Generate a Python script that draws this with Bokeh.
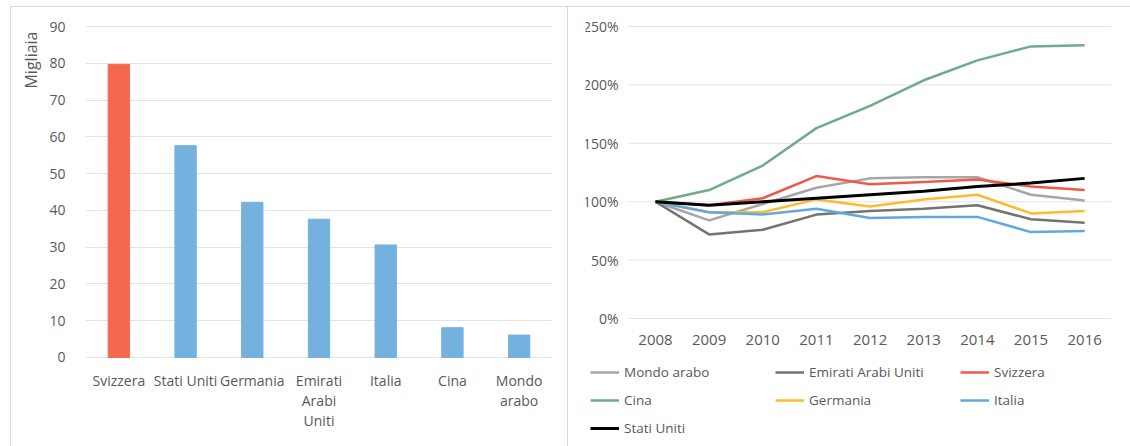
from bokeh.plotting import figure
from bokeh.layouts import row
from bokeh.models import Range1d, FactorRange, Title, Legend, LegendItem, FixedTicker
from bokeh.embed import file_html
from bokeh.resources import INLINE

# ---------------- data ----------------
countries = ["Svizzera", "Stati Uniti", "Germania", "Emirati Arabi Uniti", "Italia", "Cina", "Mondo arabo"]
thousands = [79.7, 57.6, 42.2, 37.6, 30.6, 8.1, 6.1]
bar_colors = ["#f4684f", "#75b1df", "#75b1df", "#75b1df", "#75b1df", "#75b1df", "#75b1df"]
country_labels = ["Svizzera", "Stati Uniti", "Germania", "Emirati\nArabi\nUniti", "Italia", "Cina", "Mondo\narabo"]
num_ticks = [0, 10, 20, 30, 40, 50, 60, 70, 80, 90]

years = [2008, 2009, 2010, 2011, 2012, 2013, 2014, 2015, 2016]
year_labels = ["2008", "2009", "2010", "2011", "2012", "2013", "2014", "2015", "2016"]
mondo_arabo = [100, 84, 98, 112, 120, 121, 121, 106, 101]
emirati = [100, 72, 76, 89, 92, 94, 97, 85, 82]
svizzera = [100, 97, 103, 122, 115, 117, 119, 113, 110]
cina = [100, 110, 131, 163, 182, 204, 221, 233, 234]
germania = [100, 91, 91, 102, 96, 102, 106, 90, 92]
italia = [100, 91, 89, 94, 86, 87, 87, 74, 75]
stati_uniti = [100, 97, 100, 103, 106, 109, 113, 116, 120]
series_names = ["Mondo arabo", "Emirati Arabi Uniti", "Svizzera", "Cina", "Germania", "Italia", "Stati Uniti"]
series_values = [mondo_arabo, emirati, svizzera, cina, germania, italia, stati_uniti]
series_colors = ["#a6a6a6", "#737373", "#ee5a4a", "#6fab88", "#fbbd2e", "#62a8de", "#000000"]
pct_ticks = [0, 50, 100, 150, 200, 250]
pct_labels = ["0%", "50%", "100%", "150%", "200%", "250%"]

FONT = "Open Sans"
TXT = "#595959"
GRID = "#e3e3e3"
BORDER = "#d9d9d9"

# Both frames fill their panels vertically (the row aligns frame edges);
# the space above the top tick / below zero holds the tick texts and the legend.

# ---------------- left: bar chart ----------------
p1 = figure(width=558, height=440, x_range=FactorRange(*countries), y_range=Range1d(-23.39, 95.17),
            output_backend="svg", toolbar_location=None,
            min_border_left=74, min_border_right=17, min_border_top=0, min_border_bottom=4)
p1.margin = (6, 0, 0, 10)
p1.styles = {"border-left": f"1px solid {BORDER}", "border-top": f"1px solid {BORDER}",
             "border-right": f"1px solid {BORDER}"}
p1.outline_line_color = None
p1.xaxis.visible = False
p1.xgrid.grid_line_color = None
p1.ygrid.grid_line_color = GRID
p1.ygrid.ticker = FixedTicker(ticks=num_ticks)
p1.yaxis.ticker = FixedTicker(ticks=num_ticks)
p1.yaxis.axis_line_color = None
p1.yaxis.major_tick_line_color = None
p1.yaxis.minor_tick_line_color = None
p1.yaxis.major_label_standoff = 14
p1.yaxis.major_label_text_font = FONT
p1.yaxis.major_label_text_font_size = "14px"
p1.yaxis.major_label_text_color = TXT
p1.add_layout(Title(text="Migliaia", align="right", text_font=FONT, text_font_size="16px",
                    text_font_style="normal", text_color=TXT, offset=24), "left")

p1.vbar(x=countries, top=thousands, width=0.32, color=bar_colors)
p1.text(x=countries, y=[-3.8] * len(countries), text=country_labels,
        text_align="center", text_baseline="top", text_font={"value": FONT},
        text_font_size="14px", text_color=TXT, text_line_height=1.05)

# ---------------- right: line chart ----------------
# numeric x range: 2008 sits ~70px right of the frame edge, leaving room for labels/legend inside the frame
p2 = figure(width=562, height=440, x_range=Range1d(2006.696, 2016.5), y_range=Range1d(-107.0, 266.3),
            output_backend="svg", toolbar_location=None,
            min_border_left=17, min_border_right=19, min_border_top=0, min_border_bottom=4)
p2.margin = (6, 0, 0, 0)
p2.styles = {"border-top": f"1px solid {BORDER}"}
p2.outline_line_color = None
p2.xaxis.visible = False
p2.yaxis.visible = False
p2.grid.visible = False

x_lo = years[0] - 0.5
x_hi = years[-1] + 0.5
p2.segment(x0=[x_lo] * len(pct_ticks), x1=[x_hi] * len(pct_ticks), y0=pct_ticks, y1=pct_ticks,
           line_color=GRID, line_width=1)
p2.text(x=[x_lo] * len(pct_ticks), y=pct_ticks, text=pct_labels, x_offset=-10,
        text_align="right", text_baseline="middle", text_font={"value": FONT},
        text_font_size="14px", text_color=TXT)
p2.text(x=years, y=[-18.8] * len(years), text=year_labels,
        text_align="center", text_baseline="middle", text_font={"value": FONT},
        text_font_size="15px", text_color=TXT)

items = []
for name, vals, col in zip(series_names, series_values, series_colors):
    r = p2.line(x=years, y=vals, line_color=col, line_width=3 if name == "Stati Uniti" else 2.5)
    items.append(LegendItem(label=name, renderers=[r]))

legend = Legend(items=items, orientation="horizontal", ncols=3, location="bottom_left",
                glyph_width=29, glyph_height=20, label_height=20, label_width=143,
                label_standoff=5, spacing=8, padding=5, margin=5,
                label_text_font=FONT, label_text_font_size="13.5px", label_text_color=TXT,
                background_fill_alpha=0, border_line_color=None)
p2.add_layout(legend, "center")

layout = row(p1, p2)
open("out.html", "w").write(file_html(layout, INLINE))
